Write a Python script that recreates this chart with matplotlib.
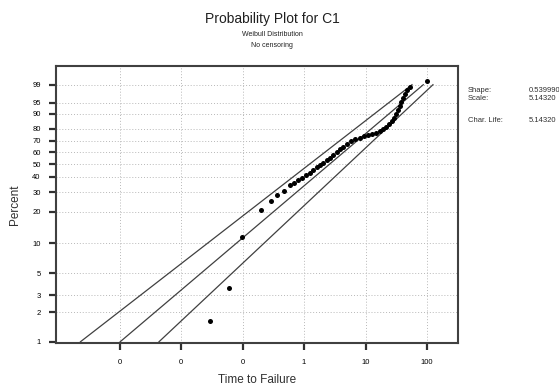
"""Weibull probability plot for C1 (Minitab-style)."""

import matplotlib

matplotlib.use("Agg")
import matplotlib.pyplot as plt
import numpy as np

plt.rcParams["font.family"] = ["Liberation Sans Narrow", "Liberation Sans", "DejaVu Sans"]

# fitted parameters shown in the side panel
SHAPE = 0.53999
SCALE = 5.14320
shape_text = "0.539990"
scale_text = "5.14320"
char_life_text = "5.14320"

# observed failures (time, plotting position in percent)
times = [
    0.0296, 0.0603, 0.0981, 0.200, 0.291, 0.364, 0.473, 0.592, 0.688, 0.799,
    0.928, 1.078, 1.252, 1.401, 1.627, 1.820, 2.037, 2.366, 2.647, 2.961,
    3.440, 3.849, 4.306, 5.003, 5.810, 6.750, 8.140, 9.454, 10.98, 12.76,
    14.82, 17.21, 19.26, 21.54, 24.11, 26.97, 29.07, 31.33, 33.77, 35.72,
    37.77, 40.72, 43.88, 47.29, 52.91, 98.9,
]
percents = [
    1.63, 3.55, 11.48, 20.72, 25.02, 28.27, 30.60, 34.39, 35.73, 37.79,
    39.23, 41.42, 42.94, 45.28, 47.65, 49.29, 50.92, 53.46, 55.18, 57.75,
    60.38, 62.99, 64.76, 67.36, 69.98, 71.70, 72.96, 74.22, 75.05, 75.88,
    77.08, 78.28, 79.85, 81.36, 83.54, 85.60, 87.53, 89.87, 91.95, 93.74,
    95.26, 96.50, 97.50, 98.27, 98.72, 99.35,
]

# confidence band end points (percent, time)
band_percents = [1, 99]
upper_band_times = [0.000232, 57.0]
lower_band_times = [0.00439, 125.0]

x_ticks = [0.001, 0.01, 0.1, 1, 10, 100]
x_tick_labels = ["0", "0", "0", "1", "10", "100"]
y_ticks = [1, 2, 3, 5, 10, 20, 30, 40, 50, 60, 70, 80, 90, 95, 99]


def _weibull_fwd(p):
    p = np.clip(np.asarray(p, dtype=float), 1e-9, 100 - 1e-9) / 100.0
    return np.log(-np.log(1.0 - p))


def _weibull_inv(w):
    return 100.0 * (1.0 - np.exp(-np.exp(np.asarray(w, dtype=float))))


fig = plt.figure(figsize=(5.59, 3.85), dpi=100)
ax = fig.add_axes([0.1002, 0.1078, 0.7191, 0.7208])
ax.set_xscale("log")
ax.set_yscale("function", functions=(_weibull_fwd, _weibull_inv))

# fitted line from the shape/scale estimates
fit_p = np.array(band_percents, dtype=float)
fit_t = SCALE * (-np.log(1 - fit_p / 100.0)) ** (1.0 / SHAPE)
line_kw = dict(color="#404040", lw=0.9)
ax.plot(fit_t, fit_p, **line_kw)
ax.plot(upper_band_times, band_percents, **line_kw)
ax.plot(lower_band_times, band_percents, **line_kw)

ax.scatter(times, percents, s=13, color="black", zorder=3, linewidths=0)

ax.set_xlim(0.0000928, 319)
ax.set_ylim(0.959, 99.925)

ax.set_xticks(x_ticks)
ax.set_xticklabels(x_tick_labels)
ax.xaxis.set_minor_locator(matplotlib.ticker.NullLocator())
ax.set_yticks(y_ticks)
ax.set_yticklabels([str(v) for v in y_ticks])
ax.yaxis.set_minor_locator(matplotlib.ticker.NullLocator())
ax.tick_params(axis="both", labelsize=5.5, length=5, width=1.6, color="#303030", pad=6)

ax.grid(True, which="major", color="#b8b8b8", linestyle=(0, (1, 2)), lw=0.7)
for spine in ax.spines.values():
    spine.set_color("#404040")
    spine.set_linewidth(1.5)

ax.set_xlabel("Time to Failure", fontsize=8.5, color="#303030", labelpad=6)
ax.set_ylabel("Percent", fontsize=8.5, color="#303030", labelpad=8)

fig.text(0.487, 0.950, "Probability Plot for C1", ha="center", va="center", fontsize=10, color="#202020")
fig.text(0.487, 0.911, "Weibull Distribution", ha="center", va="center", fontsize=5, color="#202020")
fig.text(0.487, 0.883, "No censoring", ha="center", va="center", fontsize=5, color="#202020")

side_kw = dict(fontsize=5.5, color="#303030", va="center")
fig.text(0.837, 0.764, "Shape:", **side_kw)
fig.text(0.946, 0.764, shape_text, **side_kw)
fig.text(0.837, 0.745, "Scale:", **side_kw)
fig.text(0.946, 0.745, scale_text, **side_kw)
fig.text(0.837, 0.686, "Char. Life:", **side_kw)
fig.text(0.946, 0.686, char_life_text, **side_kw)

fig.savefig("out.png", dpi=100)
plt.close(fig)
